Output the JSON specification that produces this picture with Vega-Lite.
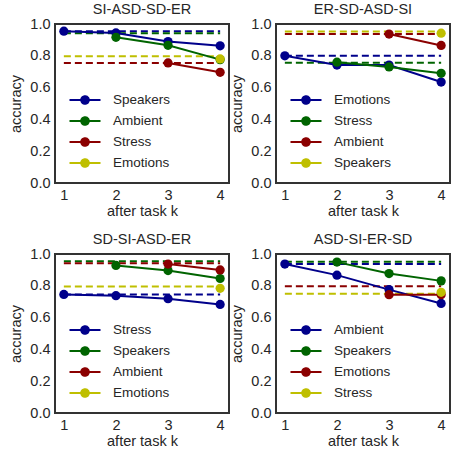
{
  "$schema": "https://vega.github.io/schema/vega-lite/v6.json",
  "background": "white",
  "padding": {"left": 7, "top": 0, "right": 2, "bottom": 0},
  "datasets": {
    "acc": [
      {"panel": "SI-ASD-SD-ER", "task": "Speakers", "k": 1, "acc": 0.955},
      {"panel": "SI-ASD-SD-ER", "task": "Speakers", "k": 2, "acc": 0.944},
      {"panel": "SI-ASD-SD-ER", "task": "Speakers", "k": 3, "acc": 0.89},
      {"panel": "SI-ASD-SD-ER", "task": "Speakers", "k": 4, "acc": 0.863},
      {"panel": "SI-ASD-SD-ER", "task": "Ambient", "k": 2, "acc": 0.916},
      {"panel": "SI-ASD-SD-ER", "task": "Ambient", "k": 3, "acc": 0.866},
      {"panel": "SI-ASD-SD-ER", "task": "Ambient", "k": 4, "acc": 0.776},
      {"panel": "SI-ASD-SD-ER", "task": "Stress", "k": 3, "acc": 0.755},
      {"panel": "SI-ASD-SD-ER", "task": "Stress", "k": 4, "acc": 0.696},
      {"panel": "SI-ASD-SD-ER", "task": "Emotions", "k": 4, "acc": 0.78},
      {"panel": "ER-SD-ASD-SI", "task": "Emotions", "k": 1, "acc": 0.8},
      {"panel": "ER-SD-ASD-SI", "task": "Emotions", "k": 2, "acc": 0.742},
      {"panel": "ER-SD-ASD-SI", "task": "Emotions", "k": 3, "acc": 0.742},
      {"panel": "ER-SD-ASD-SI", "task": "Emotions", "k": 4, "acc": 0.635},
      {"panel": "ER-SD-ASD-SI", "task": "Stress", "k": 2, "acc": 0.76},
      {"panel": "ER-SD-ASD-SI", "task": "Stress", "k": 3, "acc": 0.73},
      {"panel": "ER-SD-ASD-SI", "task": "Stress", "k": 4, "acc": 0.69},
      {"panel": "ER-SD-ASD-SI", "task": "Ambient", "k": 3, "acc": 0.937},
      {"panel": "ER-SD-ASD-SI", "task": "Ambient", "k": 4, "acc": 0.865},
      {"panel": "ER-SD-ASD-SI", "task": "Speakers", "k": 4, "acc": 0.942},
      {"panel": "SD-SI-ASD-ER", "task": "Stress", "k": 1, "acc": 0.746},
      {"panel": "SD-SI-ASD-ER", "task": "Stress", "k": 2, "acc": 0.738},
      {"panel": "SD-SI-ASD-ER", "task": "Stress", "k": 3, "acc": 0.719},
      {"panel": "SD-SI-ASD-ER", "task": "Stress", "k": 4, "acc": 0.683},
      {"panel": "SD-SI-ASD-ER", "task": "Speakers", "k": 2, "acc": 0.928},
      {"panel": "SD-SI-ASD-ER", "task": "Speakers", "k": 3, "acc": 0.896},
      {"panel": "SD-SI-ASD-ER", "task": "Speakers", "k": 4, "acc": 0.846},
      {"panel": "SD-SI-ASD-ER", "task": "Ambient", "k": 3, "acc": 0.937},
      {"panel": "SD-SI-ASD-ER", "task": "Ambient", "k": 4, "acc": 0.9},
      {"panel": "SD-SI-ASD-ER", "task": "Emotions", "k": 4, "acc": 0.784},
      {"panel": "ASD-SI-ER-SD", "task": "Ambient", "k": 1, "acc": 0.937},
      {"panel": "ASD-SI-ER-SD", "task": "Ambient", "k": 2, "acc": 0.867},
      {"panel": "ASD-SI-ER-SD", "task": "Ambient", "k": 3, "acc": 0.776},
      {"panel": "ASD-SI-ER-SD", "task": "Ambient", "k": 4, "acc": 0.689},
      {"panel": "ASD-SI-ER-SD", "task": "Speakers", "k": 2, "acc": 0.949},
      {"panel": "ASD-SI-ER-SD", "task": "Speakers", "k": 3, "acc": 0.877},
      {"panel": "ASD-SI-ER-SD", "task": "Speakers", "k": 4, "acc": 0.831},
      {"panel": "ASD-SI-ER-SD", "task": "Emotions", "k": 3, "acc": 0.744},
      {"panel": "ASD-SI-ER-SD", "task": "Emotions", "k": 4, "acc": 0.744},
      {"panel": "ASD-SI-ER-SD", "task": "Stress", "k": 4, "acc": 0.759}
    ],
    "base": [
      {"panel": "SI-ASD-SD-ER", "task": "Speakers", "base": 0.955},
      {"panel": "SI-ASD-SD-ER", "task": "Ambient", "base": 0.942},
      {"panel": "SI-ASD-SD-ER", "task": "Stress", "base": 0.755},
      {"panel": "SI-ASD-SD-ER", "task": "Emotions", "base": 0.797},
      {"panel": "ER-SD-ASD-SI", "task": "Emotions", "base": 0.8},
      {"panel": "ER-SD-ASD-SI", "task": "Stress", "base": 0.756},
      {"panel": "ER-SD-ASD-SI", "task": "Ambient", "base": 0.937},
      {"panel": "ER-SD-ASD-SI", "task": "Speakers", "base": 0.953},
      {"panel": "SD-SI-ASD-ER", "task": "Stress", "base": 0.746},
      {"panel": "SD-SI-ASD-ER", "task": "Speakers", "base": 0.955},
      {"panel": "SD-SI-ASD-ER", "task": "Ambient", "base": 0.942},
      {"panel": "SD-SI-ASD-ER", "task": "Emotions", "base": 0.795},
      {"panel": "ASD-SI-ER-SD", "task": "Ambient", "base": 0.937},
      {"panel": "ASD-SI-ER-SD", "task": "Speakers", "base": 0.951},
      {"panel": "ASD-SI-ER-SD", "task": "Emotions", "base": 0.797},
      {"panel": "ASD-SI-ER-SD", "task": "Stress", "base": 0.75}
    ]
  },
  "columns": 2,
  "spacing": {"column": -2, "row": 11},
  "resolve": {"scale": {"color": "independent"}, "legend": {"color": "independent"}},
  "concat": [
    {
      "title": "SI-ASD-SD-ER",
      "width": 174, "height": 159,
      "layer": [
        {"data": {"name": "base"}, "transform": [{"filter": "datum.panel == 'SI-ASD-SD-ER'"}],
         "mark": {"type": "rule", "strokeDash": [7, 4], "strokeWidth": 2},
         "encoding": {"x": {"datum": 1, "type": "quantitative"}, "x2": {"datum": 4},
           "y": {"field": "base", "type": "quantitative", "title": "accuracy", "axis": {"values": [0, 0.2, 0.4, 0.6, 0.8, 1.0], "format": ".1f"}},
           "color": {"field": "task", "type": "nominal", "title": null, "scale": {"domain": ["Speakers", "Ambient", "Stress", "Emotions"], "range": ["#00008B", "#006400", "#8B0000", "#BFBF00"]}}}},
        {"data": {"name": "acc"}, "transform": [{"filter": "datum.panel == 'SI-ASD-SD-ER'"}],
         "mark": {"type": "line", "strokeWidth": 2, "point": {"filled": true, "size": 85, "opacity": 1}},
         "encoding": {
           "x": {"field": "k", "type": "quantitative", "title": "after task k", "scale": {"domain": [0.83, 4.17], "nice": false, "zero": false}, "axis": {"values": [1, 2, 3, 4], "format": "d"}},
           "y": {"field": "acc", "type": "quantitative", "title": "accuracy", "scale": {"domain": [0, 1], "nice": false}, "axis": {"values": [0, 0.2, 0.4, 0.6, 0.8, 1.0], "format": ".1f"}},
           "color": {"field": "task", "type": "nominal", "title": null, "scale": {"domain": ["Speakers", "Ambient", "Stress", "Emotions"], "range": ["#00008B", "#006400", "#8B0000", "#BFBF00"]}}
         }}
      ]
    },
    {
      "title": "ER-SD-ASD-SI",
      "width": 174, "height": 159,
      "layer": [
        {"data": {"name": "base"}, "transform": [{"filter": "datum.panel == 'ER-SD-ASD-SI'"}],
         "mark": {"type": "rule", "strokeDash": [7, 4], "strokeWidth": 2},
         "encoding": {"x": {"datum": 1, "type": "quantitative"}, "x2": {"datum": 4},
           "y": {"field": "base", "type": "quantitative", "title": "accuracy", "axis": {"values": [0, 0.2, 0.4, 0.6, 0.8, 1.0], "format": ".1f"}},
           "color": {"field": "task", "type": "nominal", "title": null, "scale": {"domain": ["Emotions", "Stress", "Ambient", "Speakers"], "range": ["#00008B", "#006400", "#8B0000", "#BFBF00"]}}}},
        {"data": {"name": "acc"}, "transform": [{"filter": "datum.panel == 'ER-SD-ASD-SI'"}],
         "mark": {"type": "line", "strokeWidth": 2, "point": {"filled": true, "size": 85, "opacity": 1}},
         "encoding": {
           "x": {"field": "k", "type": "quantitative", "title": "after task k", "scale": {"domain": [0.83, 4.17], "nice": false, "zero": false}, "axis": {"values": [1, 2, 3, 4], "format": "d"}},
           "y": {"field": "acc", "type": "quantitative", "title": "accuracy", "scale": {"domain": [0, 1], "nice": false}, "axis": {"values": [0, 0.2, 0.4, 0.6, 0.8, 1.0], "format": ".1f"}},
           "color": {"field": "task", "type": "nominal", "title": null, "scale": {"domain": ["Emotions", "Stress", "Ambient", "Speakers"], "range": ["#00008B", "#006400", "#8B0000", "#BFBF00"]}}
         }}
      ]
    },
    {
      "title": "SD-SI-ASD-ER",
      "width": 174, "height": 159,
      "layer": [
        {"data": {"name": "base"}, "transform": [{"filter": "datum.panel == 'SD-SI-ASD-ER'"}],
         "mark": {"type": "rule", "strokeDash": [7, 4], "strokeWidth": 2},
         "encoding": {"x": {"datum": 1, "type": "quantitative"}, "x2": {"datum": 4},
           "y": {"field": "base", "type": "quantitative", "title": "accuracy", "axis": {"values": [0, 0.2, 0.4, 0.6, 0.8, 1.0], "format": ".1f"}},
           "color": {"field": "task", "type": "nominal", "title": null, "scale": {"domain": ["Stress", "Speakers", "Ambient", "Emotions"], "range": ["#00008B", "#006400", "#8B0000", "#BFBF00"]}}}},
        {"data": {"name": "acc"}, "transform": [{"filter": "datum.panel == 'SD-SI-ASD-ER'"}],
         "mark": {"type": "line", "strokeWidth": 2, "point": {"filled": true, "size": 85, "opacity": 1}},
         "encoding": {
           "x": {"field": "k", "type": "quantitative", "title": "after task k", "scale": {"domain": [0.83, 4.17], "nice": false, "zero": false}, "axis": {"values": [1, 2, 3, 4], "format": "d"}},
           "y": {"field": "acc", "type": "quantitative", "title": "accuracy", "scale": {"domain": [0, 1], "nice": false}, "axis": {"values": [0, 0.2, 0.4, 0.6, 0.8, 1.0], "format": ".1f"}},
           "color": {"field": "task", "type": "nominal", "title": null, "scale": {"domain": ["Stress", "Speakers", "Ambient", "Emotions"], "range": ["#00008B", "#006400", "#8B0000", "#BFBF00"]}}
         }}
      ]
    },
    {
      "title": "ASD-SI-ER-SD",
      "width": 174, "height": 159,
      "layer": [
        {"data": {"name": "base"}, "transform": [{"filter": "datum.panel == 'ASD-SI-ER-SD'"}],
         "mark": {"type": "rule", "strokeDash": [7, 4], "strokeWidth": 2},
         "encoding": {"x": {"datum": 1, "type": "quantitative"}, "x2": {"datum": 4},
           "y": {"field": "base", "type": "quantitative", "title": "accuracy", "axis": {"values": [0, 0.2, 0.4, 0.6, 0.8, 1.0], "format": ".1f"}},
           "color": {"field": "task", "type": "nominal", "title": null, "scale": {"domain": ["Ambient", "Speakers", "Emotions", "Stress"], "range": ["#00008B", "#006400", "#8B0000", "#BFBF00"]}}}},
        {"data": {"name": "acc"}, "transform": [{"filter": "datum.panel == 'ASD-SI-ER-SD'"}],
         "mark": {"type": "line", "strokeWidth": 2, "point": {"filled": true, "size": 85, "opacity": 1}},
         "encoding": {
           "x": {"field": "k", "type": "quantitative", "title": "after task k", "scale": {"domain": [0.83, 4.17], "nice": false, "zero": false}, "axis": {"values": [1, 2, 3, 4], "format": "d"}},
           "y": {"field": "acc", "type": "quantitative", "title": "accuracy", "scale": {"domain": [0, 1], "nice": false}, "axis": {"values": [0, 0.2, 0.4, 0.6, 0.8, 1.0], "format": ".1f"}},
           "color": {"field": "task", "type": "nominal", "title": null, "scale": {"domain": ["Ambient", "Speakers", "Emotions", "Stress"], "range": ["#00008B", "#006400", "#8B0000", "#BFBF00"]}}
         }}
      ]
    }
  ],
  "config": {
    "font": "Liberation Sans",
    "view": {"stroke": "#333333", "strokeWidth": 2},
    "title": {"fontSize": 14.5, "fontWeight": "normal", "color": "#262626", "offset": -1, "font": "Liberation Sans"},
    "axis": {"grid": false, "domain": false, "ticks": false, "labelOverlap": false, "labelFontSize": 14.5, "titleFontSize": 14.5, "titleFontWeight": "normal", "labelColor": "#262626", "titleColor": "#262626", "labelPadding": 5},
    "axisY": {"titlePadding": 6},
    "axisX": {"titlePadding": 3},
    "legend": {
      "orient": "none", "legendX": 19, "legendY": 65,
      "labelFontSize": 13.5, "labelColor": "#262626",
      "symbolType": "M-1.55,0H1.55M-0.38,0A0.38,0.38 0 1,0 0.38,0A0.38,0.38 0 1,0 -0.38,0",
      "symbolSize": 400, "symbolStrokeWidth": 2, "symbolDash": [1, 0], "rowPadding": 2, "labelOffset": 17, "padding": 0
    }
  }
}
